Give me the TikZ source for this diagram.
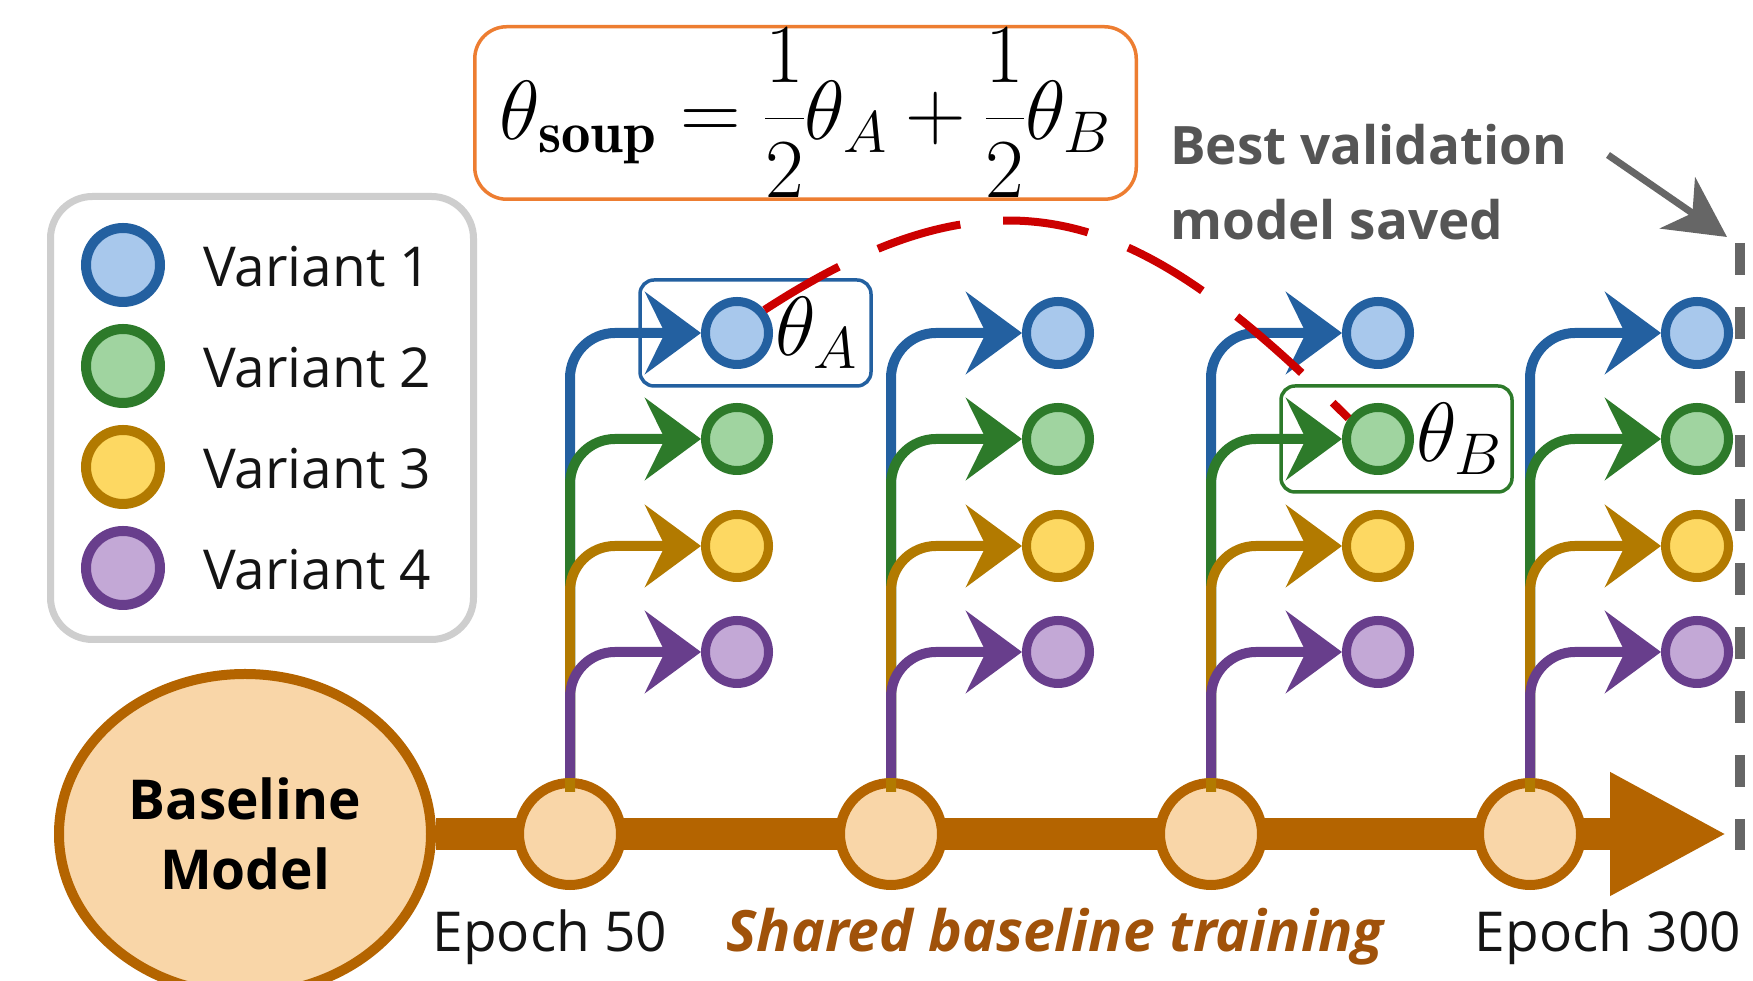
\RequirePackage{fix-cm}
\documentclass[tikz,border=0pt]{standalone}
\usepackage{amsmath}
\usepackage{fontspec}
\newfontfamily\uifont{Open Sans}
\usetikzlibrary{arrows.meta,shapes.geometric}

\begin{document}
\begin{tikzpicture}[x=1pt,y=1pt,
  epoch/.style={circle,draw=barColor,fill=peachColor,line width=10pt,minimum size=102pt,inner sep=0pt},
  variant/.style={circle,line width=9pt,minimum size=63pt,inner sep=0pt},
  keydot/.style={circle,line width=10pt,minimum size=74pt,inner sep=0pt},
  var1/.style={draw=blueLine,fill=blueFill},
  var2/.style={draw=greenLine,fill=greenFill},
  var3/.style={draw=goldLine,fill=goldFill},
  var4/.style={draw=purpleLine,fill=purpleFill},
  branch/.style={line width=10pt,rounded corners=45pt,-{Stealth[length=56pt,width=82pt,inset=20pt]}},
  pickbox/.style={line width=3.5pt,rounded corners=14pt},
  keytext/.style={font=\uifont\fontsize{55}{66}\selectfont,text=textColor,inner sep=0pt},
  steplabel/.style={font=\uifont\fontsize{55}{66}\selectfont,text=textColor,inner sep=0pt},
  note/.style={font=\uifont\bfseries\fontsize{53}{63}\selectfont,text=noteColor,inner sep=0pt},
  theta/.style={font=\fontsize{84}{100}\selectfont,inner sep=2pt}]
\definecolor{barColor}{RGB}{180,100,0}
\definecolor{peachColor}{RGB}{249,214,168}
\definecolor{blueLine}{RGB}{35,96,160}
\definecolor{blueFill}{RGB}{168,200,236}
\definecolor{greenLine}{RGB}{45,122,42}
\definecolor{greenFill}{RGB}{160,212,160}
\definecolor{goldLine}{RGB}{178,122,0}
\definecolor{goldFill}{RGB}{253,216,98}
\definecolor{purpleLine}{RGB}{104,62,140}
\definecolor{purpleFill}{RGB}{195,168,214}
\definecolor{keyGray}{RGB}{206,206,206}
\definecolor{soupOrange}{RGB}{237,125,49}
\definecolor{soupRed}{RGB}{204,0,0}
\definecolor{savedGray}{RGB}{102,102,102}
\definecolor{noteColor}{RGB}{85,85,85}
\definecolor{textColor}{RGB}{20,20,20}
\definecolor{sharedColor}{RGB}{160,82,10}
\path[use as bounding box,fill=white] (0,0) rectangle (1753,981);

% legend
\draw[draw=keyGray,line width=7pt,rounded corners=42pt] (50.5,341.5) rectangle (473.5,784.5);
\node[keydot,var1] (lg1) at (123,716) {};
\node[keydot,var2] (lg2) at (123,615) {};
\node[keydot,var3] (lg3) at (123,514) {};
\node[keydot,var4] (lg4) at (123,413) {};
\node[keytext,anchor=base west] (lt1) at (203,694) {Variant 1};
\node[keytext,anchor=base west] (lt2) at (203,593) {Variant 2};
\node[keytext,anchor=base west] (lt3) at (203,492) {Variant 3};
\node[keytext,anchor=base west] (lt4) at (203,391) {Variant 4};

% soup formula
\node[draw=soupOrange,line width=3.5pt,rounded corners=32pt,minimum width=661.5pt,minimum height=172.5pt,inner sep=0pt,
  font=\fontsize{84}{100}\selectfont] (soup) at (805.5,868)
  {$\theta_{\mathbf{soup}} = \dfrac{1}{2}\theta_A + \dfrac{1}{2}\theta_B$};

% shared baseline training
\coordinate (bartip) at (1727,147);
\node[ellipse,draw=barColor,fill=peachColor,line width=10pt,minimum width=372pt,minimum height=320pt,inner sep=0pt,
  align=center,font=\uifont\bfseries\fontsize{55}{70}\selectfont] (base) at (245,147) {Baseline\\Model};
\draw[draw=barColor,line width=32pt,-{Triangle[length=117pt,width=115pt]}] (base.east) -- (bartip);
\node[epoch] (e1) at (570,147) {};
\node[epoch] (e2) at (891,147) {};
\node[epoch] (e3) at (1211,147) {};
\node[epoch] (e4) at (1530,147) {};

% variants, one column per epoch
\node[variant,var1] (v11) at (737,648) {};
\node[variant,var2] (v12) at (737,542) {};
\node[variant,var3] (v13) at (737,435) {};
\node[variant,var4] (v14) at (737,329) {};
\node[variant,var1] (v21) at (1058,648) {};
\node[variant,var2] (v22) at (1058,542) {};
\node[variant,var3] (v23) at (1058,435) {};
\node[variant,var4] (v24) at (1058,329) {};
\node[variant,var1] (v31) at (1378,648) {};
\node[variant,var2] (v32) at (1378,542) {};
\node[variant,var3] (v33) at (1378,435) {};
\node[variant,var4] (v34) at (1378,329) {};
\node[variant,var1] (v41) at (1697,648) {};
\node[variant,var2] (v42) at (1697,542) {};
\node[variant,var3] (v43) at (1697,435) {};
\node[variant,var4] (v44) at (1697,329) {};

\draw[branch,blueLine] (e1.north) |- (v11.west);
\draw[branch,greenLine] (e1.north) |- (v12.west);
\draw[branch,goldLine] ([yshift=-14pt]e1.north) |- (v13.west);
\draw[branch,purpleLine] (e1.north) |- (v14.west);

\draw[branch,blueLine] (e2.north) |- (v21.west);
\draw[branch,greenLine] (e2.north) |- (v22.west);
\draw[branch,goldLine] ([yshift=-14pt]e2.north) |- (v23.west);
\draw[branch,purpleLine] (e2.north) |- (v24.west);

\draw[branch,blueLine] (e3.north) |- (v31.west);
\draw[branch,greenLine] (e3.north) |- (v32.west);
\draw[branch,goldLine] ([yshift=-14pt]e3.north) |- (v33.west);
\draw[branch,purpleLine] (e3.north) |- (v34.west);

\draw[branch,blueLine] (e4.north) |- (v41.west);
\draw[branch,greenLine] (e4.north) |- (v42.west);
\draw[branch,goldLine] ([yshift=-14pt]e4.north) |- (v43.west);
\draw[branch,purpleLine] (e4.north) |- (v44.west);

% picked models
\draw[pickbox,draw=blueLine] ([shift={(-97,-53)}]v11.center) rectangle ([shift={(134,53)}]v11.center);
\draw[pickbox,draw=greenLine] ([shift={(-97,-53)}]v32.center) rectangle ([shift={(134,53)}]v32.center);
\node[theta,anchor=west] (thA) at (v11.east) {$\theta_A$};
\node[theta,anchor=west] (thB) at (v32.east) {$\theta_B$};
\draw[draw=soupRed,line width=8pt,dash pattern=on 86pt off 43pt] (v11.40) to[out=33,in=135,looseness=1.25] (v32.145);

% best validation model
\coordinate (svtop) at (1740,738);
\coordinate (svbot) at (1740,131);
\coordinate (bvfrom) at (1608,826);
\coordinate (bvto) at (1727,744);
\draw[draw=savedGray,line width=10pt,dash pattern=on 32pt off 32pt] (svtop) -- (svbot);
\draw[draw=savedGray,line width=7pt,-{Stealth[length=60pt,width=62pt,inset=18pt]}] (bvfrom) -- (bvto);
\node[note,anchor=base west] (best1) at (1170,816) {Best validation};
\node[note,anchor=base west] (best2) at (1170,741) {model saved};

% labels under the bar
\node[steplabel,anchor=base] (lab50) at (550,29) {Epoch 50};
\node[steplabel,anchor=base,text=sharedColor,font=\uifont\bfseries\itshape\fontsize{57}{68}\selectfont] (labshared) at (1055,29) {Shared baseline training};
\node[steplabel,anchor=base] (lab300) at (1608,29) {Epoch 300};
\end{tikzpicture}
\end{document}
